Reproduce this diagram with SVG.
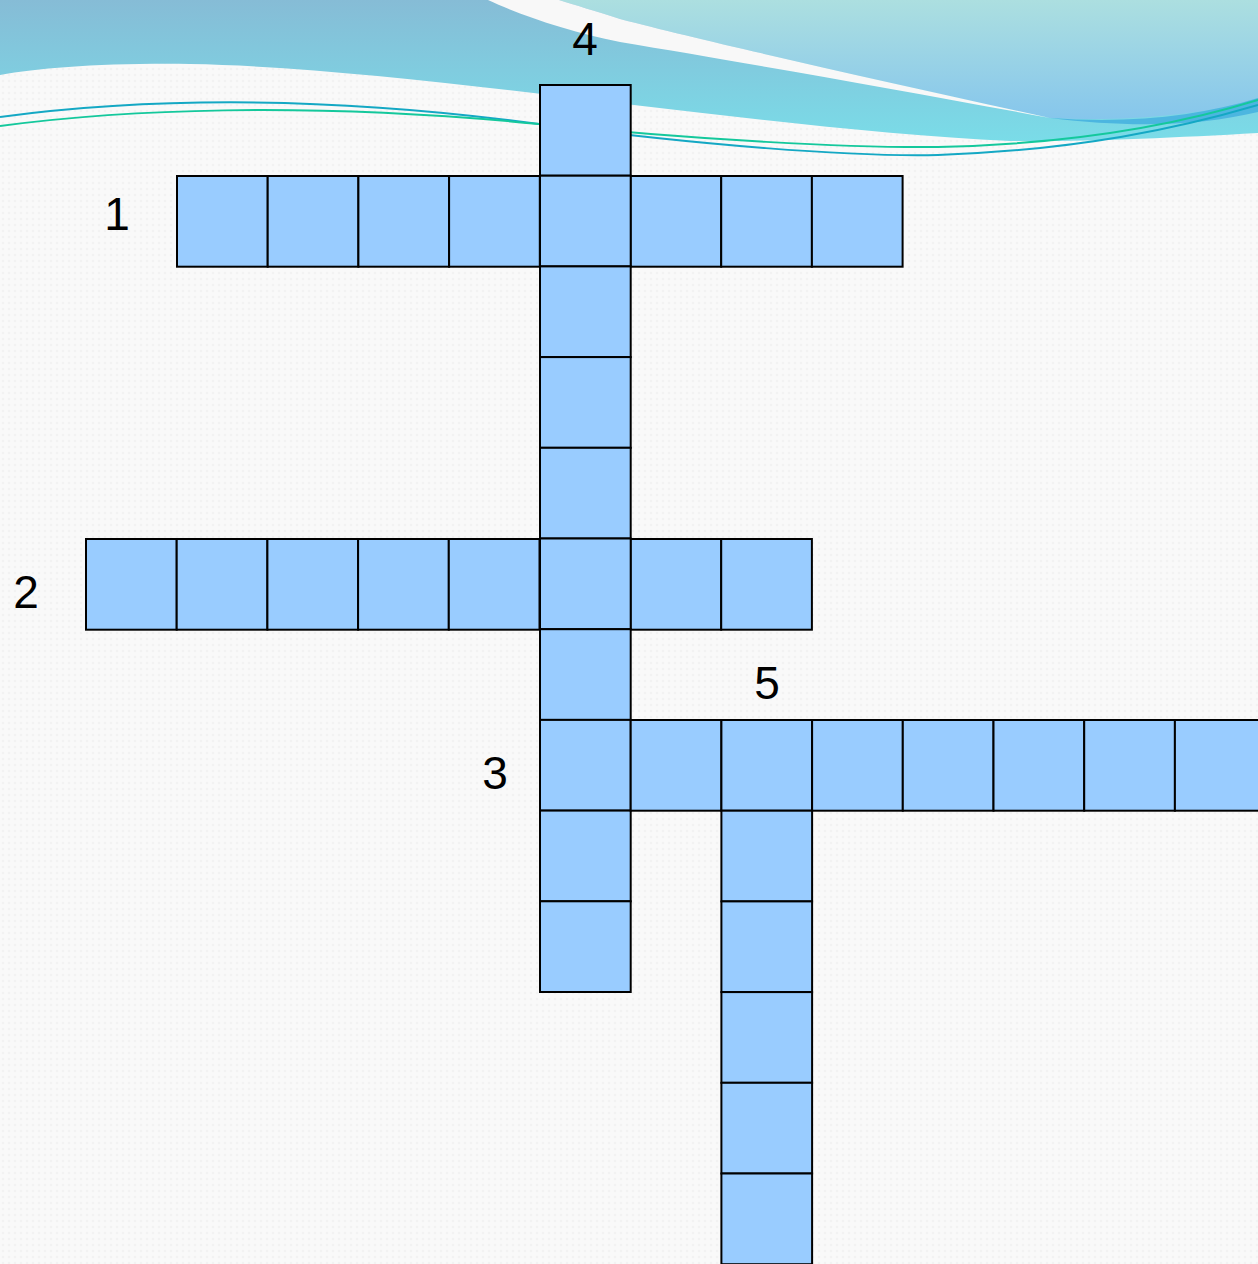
<svg xmlns="http://www.w3.org/2000/svg" width="1258" height="1264" viewBox="0 0 1258 1264">
<defs>
<linearGradient id="gBand" x1="0" y1="0" x2="0" y2="1"><stop offset="0" stop-color="#86bcd6"/><stop offset="1" stop-color="#7adce8"/></linearGradient>
<linearGradient id="gLight" x1="0" y1="0" x2="0" y2="1"><stop offset="0" stop-color="#acdfe0"/><stop offset="1" stop-color="#86c6ec"/></linearGradient>
<pattern id="dots" width="6" height="6" patternUnits="userSpaceOnUse"><rect width="6" height="6" fill="#f9f9f9"/><circle cx="3" cy="3" r="1.2" fill="#f2f2f2"/></pattern>
</defs>
<style>
.cell{fill:#99ccff;stroke:#000;stroke-width:2}
.lbl{font-family:"Liberation Sans",Arial,sans-serif;font-size:46px;fill:#000;text-anchor:middle}
</style>
<rect width="1258" height="1264" fill="url(#dots)"/>
<g id="header">
<path d="M0,0 H1258 V133 C1170,138 1080,142 1010,141 C760,130 420,68 190,64 C100,63 40,68 0,75 Z" fill="url(#gBand)"/>
<path d="M559,0 H1258 V100 C1200,115 1120,122 1050,118 C900,85 720,45 620,19 C595,11 575,5 559,0 Z" fill="url(#gLight)"/>
<path d="M1050,118 C1130,124 1200,116 1258,98 V112 C1200,126 1130,128 1050,118 Z" fill="#4cb6e0"/>
<path d="M488,0 H559 C575,5 595,11 620,19 C720,45 900,85 1050,118 C900,90 740,62 620,42 C570,32 520,15 488,0 Z" fill="#f8f8f8"/>
<path d="M0,117 C120,101 300,92 539,124 C700,145 850,157 938,155 C1080,150 1180,128 1258,105" fill="none" stroke="#14a8c4" stroke-width="2"/>
<path d="M0,126 C120,110 300,101 539,124 C700,140 850,148 938,147 C1080,144 1180,124 1258,100" fill="none" stroke="#14c89c" stroke-width="2"/>
</g>
<g id="word1">
<rect class="cell" x="177" y="176" width="90.7" height="90.7"/>
<rect class="cell" x="267.7" y="176" width="90.7" height="90.7"/>
<rect class="cell" x="358.4" y="176" width="90.7" height="90.7"/>
<rect class="cell" x="449.1" y="176" width="90.7" height="90.7"/>
<rect class="cell" x="630.5" y="176" width="90.7" height="90.7"/>
<rect class="cell" x="721.2" y="176" width="90.7" height="90.7"/>
<rect class="cell" x="811.9" y="176" width="90.7" height="90.7"/>
</g>
<g id="word2">
<rect class="cell" x="86" y="539" width="90.7" height="90.7"/>
<rect class="cell" x="176.7" y="539" width="90.7" height="90.7"/>
<rect class="cell" x="267.4" y="539" width="90.7" height="90.7"/>
<rect class="cell" x="358.1" y="539" width="90.7" height="90.7"/>
<rect class="cell" x="448.8" y="539" width="90.7" height="90.7"/>
<rect class="cell" x="630.5" y="539" width="90.7" height="90.7"/>
<rect class="cell" x="721.2" y="539" width="90.7" height="90.7"/>
</g>
<g id="word4">
<rect class="cell" x="540" y="85" width="90.7" height="90.7"/>
<rect class="cell" x="540" y="175.7" width="90.7" height="90.7"/>
<rect class="cell" x="540" y="266.4" width="90.7" height="90.7"/>
<rect class="cell" x="540" y="357.1" width="90.7" height="90.7"/>
<rect class="cell" x="540" y="447.8" width="90.7" height="90.7"/>
<rect class="cell" x="540" y="538.5" width="90.7" height="90.7"/>
<rect class="cell" x="540" y="629.2" width="90.7" height="90.7"/>
<rect class="cell" x="540" y="719.9" width="90.7" height="90.7"/>
<rect class="cell" x="540" y="810.6" width="90.7" height="90.7"/>
<rect class="cell" x="540" y="901.3" width="90.7" height="90.7"/>
</g>
<g id="word3">
<rect class="cell" x="630.7" y="720" width="90.7" height="90.7"/>
<rect class="cell" x="721.4" y="720" width="90.7" height="90.7"/>
<rect class="cell" x="812.1" y="720" width="90.7" height="90.7"/>
<rect class="cell" x="902.8" y="720" width="90.7" height="90.7"/>
<rect class="cell" x="993.5" y="720" width="90.7" height="90.7"/>
<rect class="cell" x="1084.2" y="720" width="90.7" height="90.7"/>
<rect class="cell" x="1174.9" y="720" width="90.7" height="90.7"/>
</g>
<g id="word5">
<rect class="cell" x="721.4" y="810.7" width="90.7" height="90.7"/>
<rect class="cell" x="721.4" y="901.4" width="90.7" height="90.7"/>
<rect class="cell" x="721.4" y="992.1" width="90.7" height="90.7"/>
<rect class="cell" x="721.4" y="1082.8" width="90.7" height="90.7"/>
<rect class="cell" x="721.4" y="1173.5" width="90.7" height="90.7"/>
</g>
<g id="labels">
<text class="lbl" x="117" y="230">1</text>
<text class="lbl" x="26" y="608">2</text>
<text class="lbl" x="495" y="789">3</text>
<text class="lbl" x="585" y="55">4</text>
<text class="lbl" x="767" y="699">5</text>
</g>
</svg>
